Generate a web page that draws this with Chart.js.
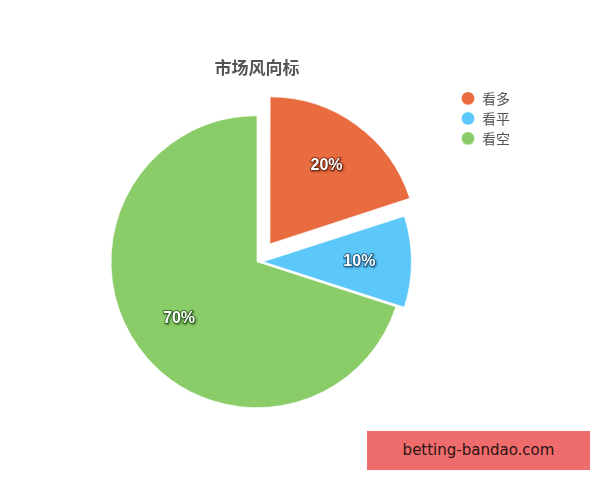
<!DOCTYPE html>
<html>
<head>
<meta charset="utf-8">
<script src="https://cdn.jsdelivr.net/npm/chart.js@4.4.0/dist/chart.umd.min.js"></script>
<style>
    html, body { margin: 0; padding: 0; background: #fff; }
    #wrap { position: relative; width: 600px; height: 480px; }
    #mark {
        position: absolute; left: 367px; top: 431px; width: 223px; height: 39px;
        background: #ef6c6c; color: #2a1414;
        font: 15px "DejaVu Sans", sans-serif; line-height: 39px; text-align: center;
    }
</style>
</head>
<body>
<div id="wrap">
    <canvas id="pie"></canvas>
    <div id="mark">betting-bandao.com</div>
</div>
<script>
document.addEventListener('DOMContentLoaded', () => {
    // --- data ---
    const chartTitle = '市场风向标';
    const categories = ['看多', '看平', '看空'];
    const shares = [20, 10, 70];
    const sliceColors = ['#e96b40', '#5cc8f9', '#89cc68'];
    const shadowColors = ['rgba(90,30,10,0.85)', 'rgba(20,70,110,0.85)', 'rgba(30,80,20,0.85)'];

    // white percent text on each slice, a bit outside half radius
    const sliceLabels = {
        id: 'sliceLabels',
        afterDatasetsDraw(chart) {
            const ctx = chart.ctx;
            const meta = chart.getDatasetMeta(0);
            meta.data.forEach((arc, i) => {
                const p = arc.getProps(['x', 'y', 'startAngle', 'endAngle', 'outerRadius'], true);
                const mid = (p.startAngle + p.endAngle) / 2;
                const off = (arc.options.offset || 0) / 4; // arc draws offset / 4
                const dist = p.outerRadius * 0.66 + off;
                const x = p.x + Math.cos(mid) * dist;
                const y = p.y + Math.sin(mid) * dist;
                ctx.save();
                ctx.font = 'bold 16px "Liberation Sans", Arial, sans-serif';
                ctx.textAlign = 'center';
                ctx.textBaseline = 'middle';
                ctx.shadowColor = shadowColors[i];
                ctx.shadowBlur = 2;
                ctx.shadowOffsetX = 1;
                ctx.shadowOffsetY = 1;
                ctx.lineWidth = 1.5;
                ctx.strokeStyle = shadowColors[i];
                ctx.strokeText(shares[i] + '%', x, y);
                ctx.shadowColor = 'transparent';
                ctx.fillStyle = '#ffffff';
                ctx.fillText(shares[i] + '%', x, y);
                ctx.restore();
            });
        }
    };

    const ctx = document.getElementById('pie').getContext('2d');
    new Chart(ctx, {
        type: 'pie',
        data: {
            labels: categories,
            datasets: [{
                data: shares,
                backgroundColor: sliceColors,
                borderColor: 'rgba(255,255,255,0.7)',
                borderWidth: 1,
                offset: [88, 24, 0]
            }]
        },
        options: {
            responsive: true,
            maintainAspectRatio: false,
            animation: false,
            radius: 146,
            layout: {
                padding: { top: 0, left: 59, right: 80, bottom: 42 }
            },
            plugins: {
                title: {
                    display: true,
                    text: chartTitle,
                    fullSize: false,
                    color: '#555555',
                    font: { family: '"Noto Sans CJK SC", sans-serif', size: 17, weight: 'bold' },
                    padding: { top: 57, bottom: 8 }
                },
                legend: {
                    position: 'right',
                    align: 'start',
                    fullSize: false,
                    labels: {
                        usePointStyle: true,
                        pointStyle: 'circle',
                        boxWidth: 14,
                        boxHeight: 9.5,
                        padding: 6,
                        color: '#555555',
                        font: { family: '"Noto Sans CJK SC", sans-serif', size: 14 }
                    }
                },
                tooltip: { enabled: false }
            }
        },
        plugins: [sliceLabels]
    });
});
</script>
</body>
</html>
